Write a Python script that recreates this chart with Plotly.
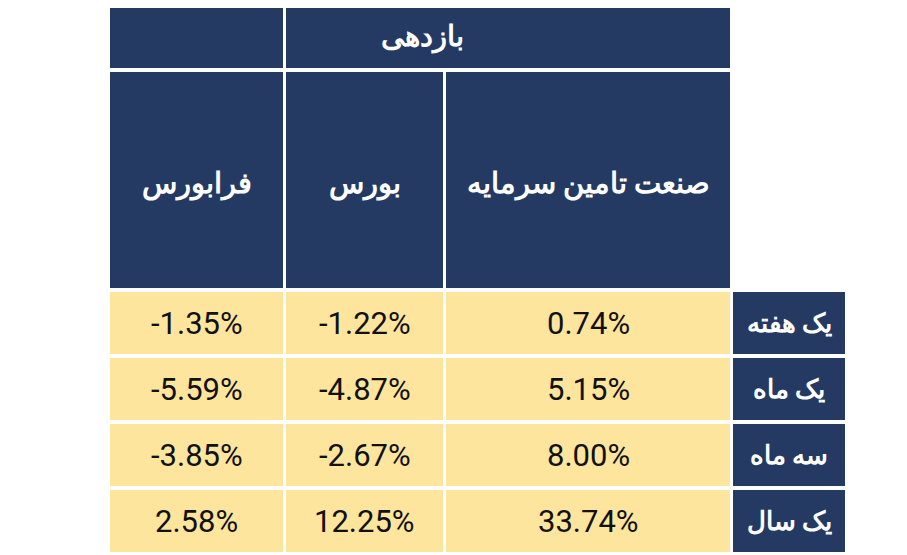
import plotly.graph_objects as go

columns = ["فرابورس", "بورس", "صنعت تامین سرمایه"]
rows = ["یک هفته", "یک ماه", "سه ماه", "یک سال"]
values = [
    ["-1.35%", "-1.22%", "0.74%"],
    ["-5.59%", "-4.87%", "5.15%"],
    ["-3.85%", "-2.67%", "8.00%"],
    ["2.58%", "12.25%", "33.74%"],
]
group_title = "بازدهی"

NAVY = "#243a63"
YELLOW = "#fde59d"
col_x = [(110, 283), (286, 443), (446, 730)]
label_x = (733, 845)
row_y = [(292, 354), (358, 420), (424, 486), (490, 552)]
top_y = (-10, 68)
head_y = (72, 288)

fig = go.Figure()
shapes, ann = [], []
def rect(x0, x1, y0, y1, c):
    shapes.append(dict(type="rect", xref="x", yref="y", x0=x0, x1=x1, y0=y0, y1=y1,
                       fillcolor=c, line=dict(width=0), layer="below"))
def text(x, y, t, color, size, bold=False):
    ann.append(dict(x=x, y=y, xref="x", yref="y", text=f"<b>{t}</b>" if bold else t,
                    showarrow=False, font=dict(color=color, size=size, family="Roboto, Noto Sans")))

rect(110, 283, *top_y, NAVY)
rect(286, 730, *top_y, NAVY)
text(422, 36, group_title, "white", 29, True)
for (x0, x1), c in zip(col_x, columns):
    rect(x0, x1, *head_y, NAVY)
    text((x0 + x1) / 2, 183, c, "white", 29, True)
for (y0, y1), r, vals in zip(row_y, rows, values):
    for (x0, x1), v in zip(col_x, vals):
        rect(x0, x1, y0, y1, YELLOW)
        text((x0 + x1) / 2, (y0 + y1) / 2, v, "#111111", 31)
    rect(label_x[0], label_x[1], y0, y1, NAVY)
    text(sum(label_x) / 2, (y0 + y1) / 2, r, "white", 26, True)

fig.add_trace(go.Scatter(x=[8, 915], y=[8, 563], mode="markers", marker=dict(opacity=0), hoverinfo="skip"))
fig.update_layout(width=907, height=555, margin=dict(l=0, r=0, t=0, b=0),
                  plot_bgcolor="white", paper_bgcolor="white", showlegend=False,
                  shapes=shapes, annotations=ann,
                  xaxis=dict(range=[8, 915], visible=False, fixedrange=True),
                  yaxis=dict(range=[563, 8], visible=False, fixedrange=True))
fig.write_html("out.html")
